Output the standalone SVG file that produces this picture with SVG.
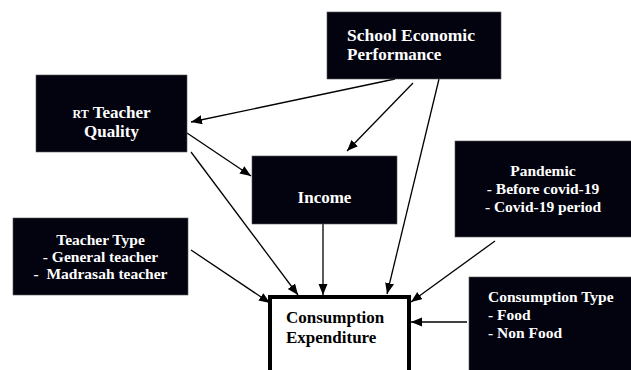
<svg xmlns="http://www.w3.org/2000/svg" width="631" height="370" viewBox="0 0 631 370">
<defs>
<style>
.box{fill:#03030f;stroke:#555;stroke-width:0.6}
text{font-family:'Liberation Serif','Times New Roman',serif;font-weight:bold;font-size:17px}
.t{fill:#fff}
.s{font-size:15.5px}
.c{text-anchor:middle}
.dk{fill:#000}
.ln{stroke:#000;stroke-width:1.3;fill:none;marker-end:url(#ah)}
</style>
<marker id="ah" markerUnits="userSpaceOnUse" markerWidth="12" markerHeight="10" refX="11" refY="4.5" orient="auto">
<path d="M0,0 L11,4.5 L0,9 z" fill="#000"/>
</marker>
</defs>
<rect width="631" height="370" fill="#fff"/>
<g id="connectors">
<line class="ln" x1="395" y1="79" x2="191" y2="122"/>
<line class="ln" x1="413" y1="83" x2="347" y2="151"/>
<line class="ln" x1="439" y1="79" x2="387" y2="294"/>
<line class="ln" x1="187" y1="133" x2="251" y2="176"/>
<line class="ln" x1="191" y1="152" x2="298" y2="295"/>
<line class="ln" x1="323" y1="224" x2="323" y2="295"/>
<line class="ln" x1="191" y1="250" x2="270" y2="303"/>
<line class="ln" x1="495" y1="241" x2="411" y2="302"/>
<line class="ln" x1="467" y1="322" x2="411" y2="322"/>
</g>
<g id="school-economic-performance">
<rect class="box" x="327" y="12" width="174" height="67"/>
<text class="t" x="347" y="41" textLength="128" lengthAdjust="spacingAndGlyphs">School Economic</text>
<text class="t" x="347" y="60">Performance</text>
</g>
<g id="teacher-quality">
<rect class="box" x="36" y="75" width="151" height="77"/>
<text class="t c" x="111.5" y="118"><tspan font-size="12">RT</tspan> Teacher</text>
<text class="t c" x="111.5" y="137">Quality</text>
</g>
<g id="income">
<rect class="box" x="252" y="156" width="145" height="68"/>
<text class="t c" x="324.5" y="203">Income</text>
</g>
<g id="pandemic">
<rect class="box" x="455" y="141" width="177" height="96"/>
<text class="t s c" x="543" y="176">Pandemic</text>
<text class="t s c" x="543" y="194">- Before covid-19</text>
<text class="t s c" x="543" y="212">- Covid-19 period</text>
</g>
<g id="teacher-type">
<rect class="box" x="13" y="218" width="175" height="77"/>
<text class="t s c" x="100.5" y="245">Teacher Type</text>
<text class="t s c" x="100.5" y="262">- General teacher</text>
<text class="t s c" x="100.5" y="279" xml:space="preserve">-  Madrasah teacher</text>
</g>
<g id="consumption-expenditure">
<rect x="270" y="297" width="139" height="90" fill="#fff" stroke="#000" stroke-width="4"/>
<text class="dk" x="286" y="323">Consumption</text>
<text class="dk" x="286" y="343">Expenditure</text>
</g>
<g id="consumption-type">
<rect class="box" x="469" y="277" width="163" height="100"/>
<text class="t s" x="488" y="302">Consumption Type</text>
<text class="t s" x="488" y="320">- Food</text>
<text class="t s" x="488" y="338">- Non Food</text>
</g>
</svg>
